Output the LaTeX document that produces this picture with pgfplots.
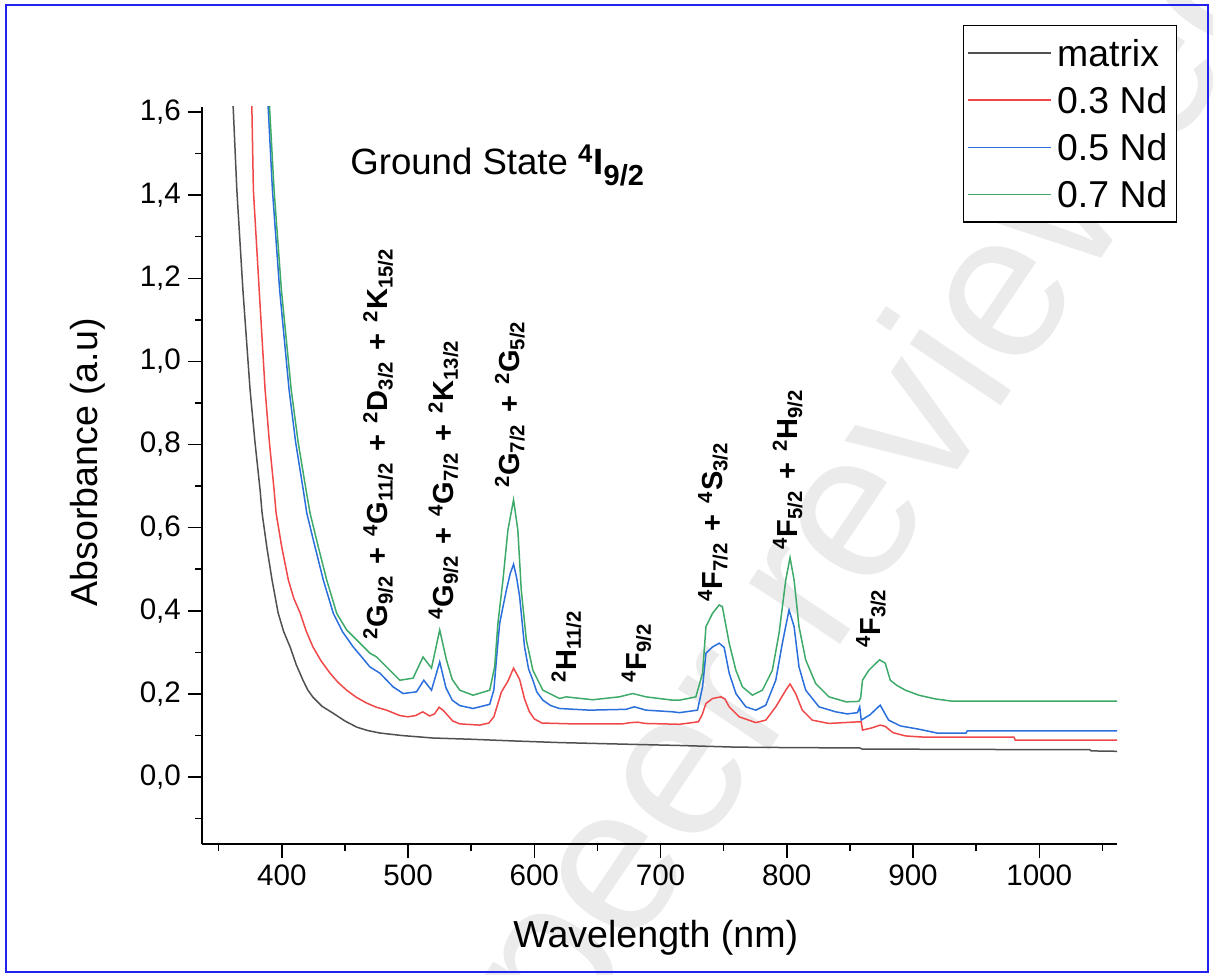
\documentclass[border=0pt]{standalone}
\usepackage{fontspec}
\setmainfont{Liberation Sans}
\usepackage{pgfplots}
\pgfplotsset{compat=1.18}
\definecolor{cmat}{HTML}{505050}
\definecolor{cred}{HTML}{F04848}
\definecolor{cblue}{HTML}{2A6FDB}
\definecolor{cgreen}{HTML}{3DAA6A}
\definecolor{frame}{HTML}{2222F0}
\newcommand{\lv}[3]{\textsuperscript{#1}#2\textsubscript{#3}}
\newcommand{\fs}[1]{\fontsize{#1}{#1}\selectfont}
\newcommand{\pl}{\hspace{5.5pt}+\hspace{5.5pt}}

\begin{document}
\begin{tikzpicture}
\path[use as bounding box] (-101pt,-65pt) rectangle (505.5pt,422pt);
% watermark
\node[rotate=56, text=black!8, font=\fs{104}, inner sep=0pt] at (343pt,183pt) {peer reviewed};
\begin{axis}[
  scale only axis, width=457.5pt, height=368.5pt,
  xmin=336.8, xmax=1061.6, ymin=-0.161, ymax=1.612,
  axis lines=left, axis line style={-, line width=0.75pt},
  tick align=outside, major tick length=7pt, minor tick length=3.5pt,
  tick style={black, line width=0.75pt},
  xtick={400,500,...,1000}, minor xtick={350,450,...,1050},
  ytick={0,0.2,...,1.6}, minor ytick={-0.1,0.1,0.3,...,1.5},
  /pgf/number format/assume math mode=true,
  tick label style={font=\fs{14.8}},
  xticklabel style={/pgf/number format/1000 sep={}},
  yticklabel style={/pgf/number format/.cd, fixed, fixed zerofill, precision=1, use comma},
  label style={font=\fs{18.8}},
  xlabel={Wavelength (nm)}, ylabel={Absorbance (a.u)},
  xlabel style={at={(axis description cs:0.496,-0.1275)}, anchor=center},
  ylabel style={at={(axis description cs:-0.1246,0.5177)}, anchor=center},
  clip mode=individual,
  every axis plot/.append style={line width=0.75pt},
  legend style={at={(axis description cs:1.0656,1.1117)}, anchor=north east,
    draw=black, line width=0.65pt, font=\fs{18.7}, inner sep=2pt,
    nodes={text height=13.4pt, text depth=0pt, inner ysep=5.1pt, inner xsep=2.5pt},
    legend cell align=left},
  legend image code/.code={\draw[#1] (0pt,0pt) -- (41.5pt,0pt);},
]
\addplot[cmat] coordinates {(360.8,1.65)(361.5,1.612)(364.4,1.412)(369.2,1.172)(374.9,0.931)(378.8,0.805)(382.8,0.691)(384.4,0.635)(388.3,0.550)(392.3,0.474)(397.1,0.395)(401.5,0.350)(406.6,0.313)(411.5,0.270)(416.8,0.233)(420.5,0.210)(424.7,0.192)(432,0.170)(440.5,0.154)(450,0.135)(459.5,0.120)(468,0.112)(477.7,0.106)(495,0.100)(519.6,0.094)(550,0.091)(583,0.087)(620,0.083)(660,0.080)(715,0.076)(760,0.072)(800,0.071)(858,0.070)(860,0.067)(900,0.067)(1000,0.066)(1040,0.066)(1041,0.063)(1062,0.062)};
\addplot[cred] coordinates {(376.0,1.65)(376.3,1.612)(377.5,1.412)(382.1,1.172)(386.8,0.931)(390.2,0.805)(393.9,0.691)(395.5,0.635)(400,0.553)(405.2,0.474)(409.5,0.430)(414.5,0.395)(419.5,0.350)(424.7,0.313)(431,0.280)(438.2,0.250)(444.5,0.228)(451.4,0.209)(459,0.192)(467.2,0.178)(475,0.168)(483.0,0.161)(493.5,0.148)(500,0.145)(506,0.148)(511.7,0.157)(517.2,0.147)(521,0.152)(524.6,0.168)(528,0.160)(535.4,0.135)(541,0.128)(556.8,0.125)(564,0.130)(568,0.145)(571,0.175)(574,0.205)(579,0.230)(583.6,0.262)(588.4,0.235)(592.3,0.188)(596,0.158)(600,0.140)(606,0.130)(630,0.128)(670,0.128)(676,0.131)(682,0.132)(688,0.129)(715,0.127)(730,0.133)(733,0.150)(736,0.177)(741.2,0.189)(747.8,0.193)(751,0.188)(754.4,0.169)(762.3,0.145)(775.5,0.131)(783.4,0.137)(791.3,0.169)(799.2,0.209)(802.6,0.224)(807,0.201)(812.3,0.161)(820.2,0.137)(833.4,0.129)(857,0.133)(859,0.133)(860,0.113)(867,0.118)(874,0.125)(878,0.122)(884,0.107)(894,0.099)(909,0.096)(980,0.096)(981,0.089)(1062,0.089)};
\addplot[cblue] coordinates {(389.0,1.65)(389.2,1.612)(392.6,1.412)(398.3,1.172)(405.8,0.931)(411,0.805)(417,0.691)(419.8,0.635)(426.3,0.554)(432.9,0.474)(440.8,0.394)(448,0.350)(456.6,0.313)(463,0.290)(469.8,0.265)(477.7,0.250)(488.2,0.217)(496.1,0.201)(506.7,0.205)(512.5,0.233)(518.6,0.209)(525.1,0.277)(530,0.215)(535,0.185)(541,0.172)(551.5,0.165)(564.7,0.175)(568,0.21)(570.5,0.30)(572.6,0.370)(577.9,0.450)(581,0.49)(583.6,0.512)(586,0.48)(588.4,0.434)(592.3,0.313)(595.5,0.26)(598.9,0.233)(602,0.205)(606.8,0.185)(613,0.172)(620,0.165)(643.7,0.161)(672.7,0.163)(679.3,0.169)(688.5,0.161)(709.6,0.157)(715,0.155)(729.3,0.161)(733.3,0.217)(736,0.298)(741.2,0.313)(746.5,0.322)(750.4,0.312)(754.4,0.250)(759.7,0.201)(767.6,0.169)(775.5,0.161)(783.4,0.173)(791.3,0.233)(796.5,0.322)(801.8,0.402)(805.8,0.362)(809.7,0.265)(815,0.209)(825.5,0.169)(838.7,0.157)(848,0.152)(856,0.155)(857.8,0.169)(859,0.137)(866,0.150)(874,0.173)(880.7,0.137)(890,0.123)(905,0.115)(919,0.106)(942,0.106)(943,0.111)(1062,0.111)};
\addplot[cgreen] coordinates {(390.0,1.65)(390.3,1.612)(393.9,1.412)(399.7,1.172)(407.5,0.931)(413,0.805)(419.2,0.691)(422.4,0.635)(428.9,0.554)(435.6,0.474)(443.5,0.394)(451.4,0.354)(461.9,0.322)(469.8,0.298)(475.1,0.289)(485.6,0.257)(493.5,0.233)(504,0.238)(511.9,0.289)(518.6,0.262)(525.1,0.354)(530.4,0.282)(535,0.235)(541,0.209)(551.5,0.197)(564.7,0.209)(568.6,0.265)(571.2,0.370)(575.2,0.474)(579.1,0.594)(583.6,0.667)(587,0.594)(589.7,0.450)(593.7,0.330)(598.9,0.257)(606.8,0.209)(620,0.189)(625.3,0.193)(646.3,0.186)(667.4,0.193)(678,0.201)(688.5,0.193)(709.6,0.185)(715,0.185)(728,0.193)(733.3,0.250)(736,0.362)(741.2,0.394)(746.5,0.414)(749,0.41)(754.4,0.322)(759.7,0.257)(764.9,0.217)(772.8,0.197)(780.7,0.209)(788.6,0.257)(793.9,0.346)(799.2,0.474)(802.6,0.528)(805.8,0.474)(809.7,0.362)(815,0.282)(822.9,0.225)(833.4,0.193)(847,0.181)(857,0.182)(858.5,0.19)(860,0.233)(865,0.257)(869,0.269)(873.5,0.282)(878,0.274)(882,0.233)(887,0.221)(894,0.209)(904.6,0.197)(917.7,0.188)(930,0.183)(1062,0.183)};
\legend{matrix,0.3 Nd,0.5 Nd,0.7 Nd}
% labels
\node[anchor=base west, inner sep=0pt, font=\fs{18.3}] at (axis cs:454.0,1.4485) {Ground State \textbf{\textsuperscript{4}I\raisebox{-0.28em}{\fs{14.5}9/2}}};
\begin{scope}[every node/.style={rotate=90, anchor=base west, inner sep=0pt, font=\bfseries\fs{14.5}}]
\node at (axis cs:484.0,0.3296) {\lv{2}{G}{9/2}\pl\lv{4}{G}{11/2}\pl\lv{2}{D}{3/2}\pl\lv{2}{K}{15/2}};
\node at (axis cs:535.7,0.378) {\lv{4}{G}{9/2}\pl\lv{4}{G}{7/2}\pl\lv{2}{K}{13/2}};
\node at (axis cs:588.4,0.6947) {\lv{2}{G}{7/2}\pl\lv{2}{G}{5/2}};
\node at (axis cs:633.2,0.226) {\lv{2}{H}{11/2}};
\node at (axis cs:688.5,0.226) {\lv{4}{F}{9/2}};
\node at (axis cs:749.1,0.4218) {\lv{4}{F}{7/2}\pl\lv{4}{S}{3/2}};
\node at (axis cs:808.4,0.546) {\lv{4}{F}{5/2}\pl\lv{2}{H}{9/2}};
\node at (axis cs:874.3,0.3097) {\lv{4}{F}{3/2}};
\end{scope}
\end{axis}
\draw[frame, line width=1pt] (-97.75pt,-64pt) rectangle (503pt,419.5pt);
\end{tikzpicture}
\end{document}
